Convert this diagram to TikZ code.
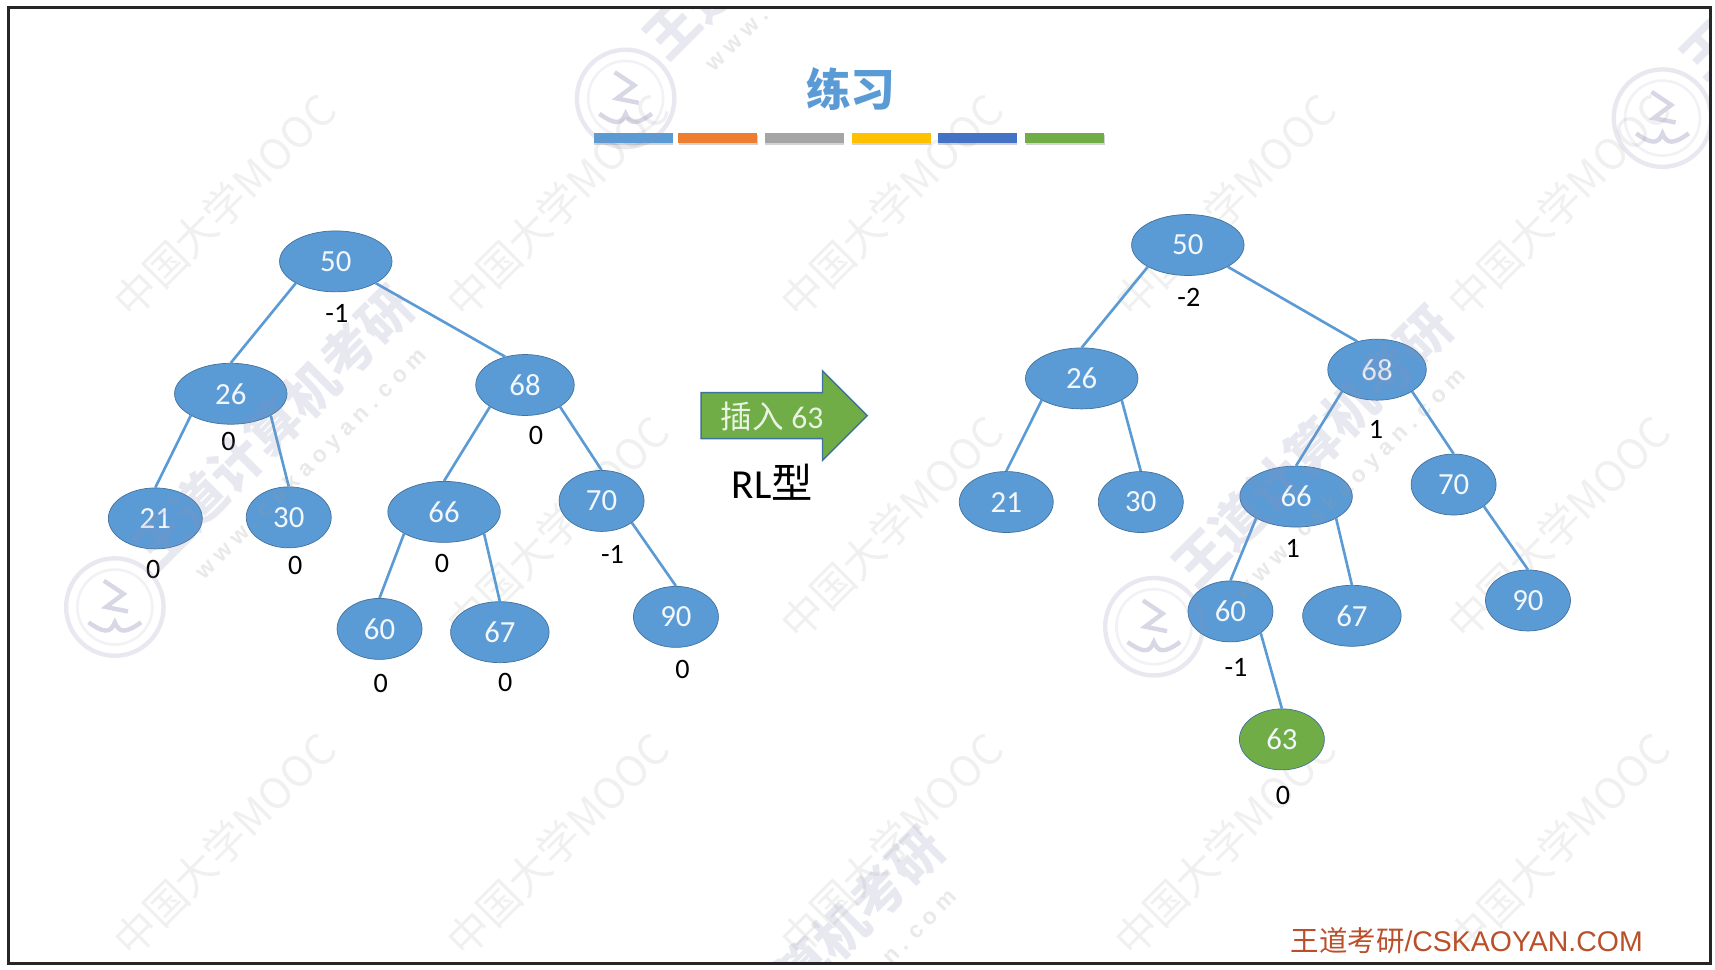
\documentclass[tikz,border=0pt]{standalone}
\usepackage{fontspec}
\setmainfont{Carlito}
\newfontfamily\cjk{Noto Sans CJK SC}
\newfontfamily\arialfont{Liberation Sans}
\usetikzlibrary{shapes.geometric,shadows}

\definecolor{treeblue}{HTML}{5B9BD5}
\definecolor{rimblue}{HTML}{41719C}
\definecolor{leafgreen}{HTML}{70AD47}
\definecolor{footred}{HTML}{B9502A}
\definecolor{markgray}{HTML}{8C8CB4}

\tikzset{
  avl/.style={ellipse, draw=rimblue, fill=treeblue, inner sep=0pt, text=white!92!treeblue,
    minimum height=1.22cm, font=\fontsize{17.5}{20}\selectfont},
  wide/.style={avl, minimum width=2.25cm},
  mid/.style={avl, minimum width=1.97cm},
  narrow/.style={avl, minimum width=1.88cm},
  slim/.style={avl, minimum width=1.7cm},
  newkey/.style={slim, fill=leafgreen},
  link/.style={treeblue, line width=1.5pt},
  bf/.style={font=\fontsize{16}{18}\selectfont, text=black},
  bar/.style={minimum width=1.58cm, minimum height=0.2cm, inner sep=0pt,
    drop shadow={shadow xshift=0.3pt, shadow yshift=-1pt, opacity=0.35}},
  mooc/.style={rotate=45, text=black!6, font=\cjk\fontsize{24}{26}\selectfont},
  wangdao/.style={rotate=45, text=markgray, opacity=0.2, font=\cjk\bfseries\fontsize{30}{32}\selectfont},
  wwwline/.style={rotate=45, text=black!40, opacity=0.22, font=\arialfont\bfseries\fontsize{13}{15}\selectfont},
  seal/.style={circle, draw=markgray, opacity=0.2, line width=2.5pt, minimum size=1.95cm, inner sep=0pt},
  sealin/.style={circle, draw=markgray, opacity=0.12, line width=1.5pt, minimum size=1.5cm, inner sep=0pt},
  pics/book/.style={code={
    \draw[markgray, opacity=0.35, line width=2.5pt] (-24,14) .. controls (-10,24) and (-4,24) .. (0,14) .. controls (4,24) and (10,24) .. (24,14);
    \draw[markgray, opacity=0.35, line width=2.5pt] (-10,-24) -- (8,-12) -- (-8,0) -- (12,4);
  }}
}

\begin{document}
\begin{tikzpicture}[x=0.021875cm, y=-0.021875cm]
\useasboundingbox (0,0) rectangle (1568,886);

% Faint background marks
\node[mooc] (m1) at (205,188) {中国大学MOOC};
\node[mooc] (m2) at (510,188) {中国大学MOOC};
\node[mooc] (m3) at (815,188) {中国大学MOOC};
\node[mooc] (m4) at (1120,188) {中国大学MOOC};
\node[mooc] (m5) at (1425,188) {中国大学MOOC};
\node[mooc] (m6) at (510,482) {中国大学MOOC};
\node[mooc] (m7) at (815,482) {中国大学MOOC};
\node[mooc] (m8) at (1425,482) {中国大学MOOC};
\node[mooc] (m9) at (205,772) {中国大学MOOC};
\node[mooc] (m10) at (510,772) {中国大学MOOC};
\node[mooc] (m11) at (815,772) {中国大学MOOC};
\node[mooc] (m12) at (1120,772) {中国大学MOOC};
\node[mooc] (m13) at (1425,772) {中国大学MOOC};

% Title and colour bars
\node[text=treeblue, font=\cjk\bfseries\fontsize{25.5}{28}\selectfont] (title) at (778,81) {练习};
\node[bar, fill=treeblue] (bar1) at (579,126.5) {};
\node[bar, fill={rgb,255:red,237;green,125;blue,49}] (bar2) at (656,126.5) {};
\node[bar, fill={rgb,255:red,165;green,165;blue,165}] (bar3) at (735.5,126.5) {};
\node[bar, fill={rgb,255:red,255;green,192;blue,0}] (bar4) at (815,126.5) {};
\node[bar, fill={rgb,255:red,68;green,114;blue,196}] (bar5) at (893.5,126.5) {};
\node[bar, fill=leafgreen] (bar6) at (973.5,126.5) {};

% Left tree
\node[wide] (a50) at (307,239) {50};
\node[wide] (a26) at (211,360) {26};
\node[mid] (a68) at (480,352) {68};
\node[narrow] (a21) at (142,474) {21};
\node[slim] (a30) at (264,473) {30};
\node[wide] (a66) at (406,468) {66};
\node[slim] (a70) at (550,458) {70};
\node[slim] (a60) at (347,575) {60};
\node[mid] (a67) at (457,578) {67};
\node[slim] (a90) at (618,564) {90};

\draw[link] (a50.south west) -- (a26.north);
\draw[link] (a50.south east) -- (a68.125);
\draw[link] (a26.south west) -- (a21.north);
\draw[link] (a26.south east) -- (a30.north);
\draw[link] (a68.south west) -- (a66.north);
\draw[link] (a68.south east) -- (a70.north);
\draw[link] (a66.south west) -- (a60.north);
\draw[link] (a66.south east) -- (a67.north);
\draw[link] (a70.south east) -- (a90.north);

% Balance factors, left tree
\node[bf] (fa50) at (308,287) {-1};
\node[bf] (fa26) at (209,404) {0};
\node[bf] (fa68) at (490,398) {0};
\node[bf] (fa21) at (140,521) {0};
\node[bf] (fa30) at (270,517) {0};
\node[bf] (fa66) at (404,515) {0};
\node[bf] (fa70) at (560,507) {-1};
\node[bf] (fa60) at (348,625) {0};
\node[bf] (fa67) at (462,624) {0};
\node[bf] (fa90) at (624,612) {0};

% Arrow between trees
\draw[fill=leafgreen, draw=rimblue, line width=0.8pt] (641,359) -- (752,359) -- (752,339) -- (793,380) -- (752,421) -- (752,401) -- (641,401) -- cycle;
\node[text=white!85!leafgreen, font=\fontsize{18}{20}\selectfont] (ins) at (706,381) {{\cjk 插入} 63};
\node[font=\fontsize{23.5}{26}\selectfont] (kind) at (706,441) {RL{\cjk 型}};

% Right tree
\node[wide] (b50) at (1086,224) {50};
\node[wide] (b26) at (989,346) {26};
\node[mid] (b68) at (1259,338) {68};
\node[narrow] (b21) at (920,459) {21};
\node[slim] (b30) at (1043,459) {30};
\node[wide] (b66) at (1185,454) {66};
\node[slim] (b70) at (1329,443) {70};
\node[slim] (b60) at (1125,559) {60};
\node[mid] (b67) at (1236,563) {67};
\node[slim] (b90) at (1397,549) {90};
\node[newkey] (b63) at (1172,676) {63};

\draw[link] (b50.south west) -- (b26.north);
\draw[link] (b50.south east) -- (b68.125);
\draw[link] (b26.south west) -- (b21.north);
\draw[link] (b26.south east) -- (b30.north);
\draw[link] (b68.south west) -- (b66.north);
\draw[link] (b68.south east) -- (b70.north);
\draw[link] (b66.south west) -- (b60.north);
\draw[link] (b66.south east) -- (b67.north);
\draw[link] (b70.south east) -- (b90.north);
\draw[link] (b60.south east) -- (b63.north);

% Balance factors, right tree
\node[bf] (fb50) at (1087,272) {-2};
\node[bf] (fb68) at (1258,393) {1};
\node[bf] (fb66) at (1182,501) {1};
\node[bf] (fb60) at (1130,610) {-1};
\node[bf] (fb63) at (1173,727) {0};

% Marks lying over the drawing
\begin{scope}
\clip (8,7) rectangle (1564,881);
\node[seal] (s1) at (105,555) {};
\node[sealin] (t1) at (105,555) {};
\pic at (105,555) {book};
\node[seal] (s2) at (572,90) {};
\node[sealin] (t2) at (572,90) {};
\pic at (572,90) {book};
\node[seal] (s3) at (1055,573) {};
\node[sealin] (t3) at (1055,573) {};
\pic at (1055,573) {book};
\node[seal] (s4) at (1520,108) {};
\node[sealin] (t4) at (1520,108) {};
\pic at (1520,108) {book};
\node[wangdao] (w1) at (250,390) {王道计算机考研};
\node[wwwline] (u1) at (285,425) {w w w . c s k a o y a n . c o m};
\node[wangdao] (w2) at (1200,408) {王道计算机考研};
\node[wwwline] (u2) at (1235,443) {w w w . c s k a o y a n . c o m};
\node[wangdao] (w3) at (717,-75) {王道计算机考研};
\node[wwwline] (u3) at (752,-40) {w w w . c s k a o y a n . c o m};
\node[wangdao] (w4) at (1665,-57) {王道计算机考研};
\node[wangdao] (w5) at (735,885) {王道计算机考研};
\node[wwwline] (u5) at (770,920) {w w w . c s k a o y a n . c o m};
\end{scope}

% Footer and frame
\node[text=footred, font=\arialfont\fontsize{16.2}{18}\selectfont] (foot) at (1341,860) {{\cjk 王道考研}/CSKAOYAN.COM};
\draw[line width=1.7pt, draw=black!85] (8,7) rectangle (1564,881);

\end{tikzpicture}
\end{document}
